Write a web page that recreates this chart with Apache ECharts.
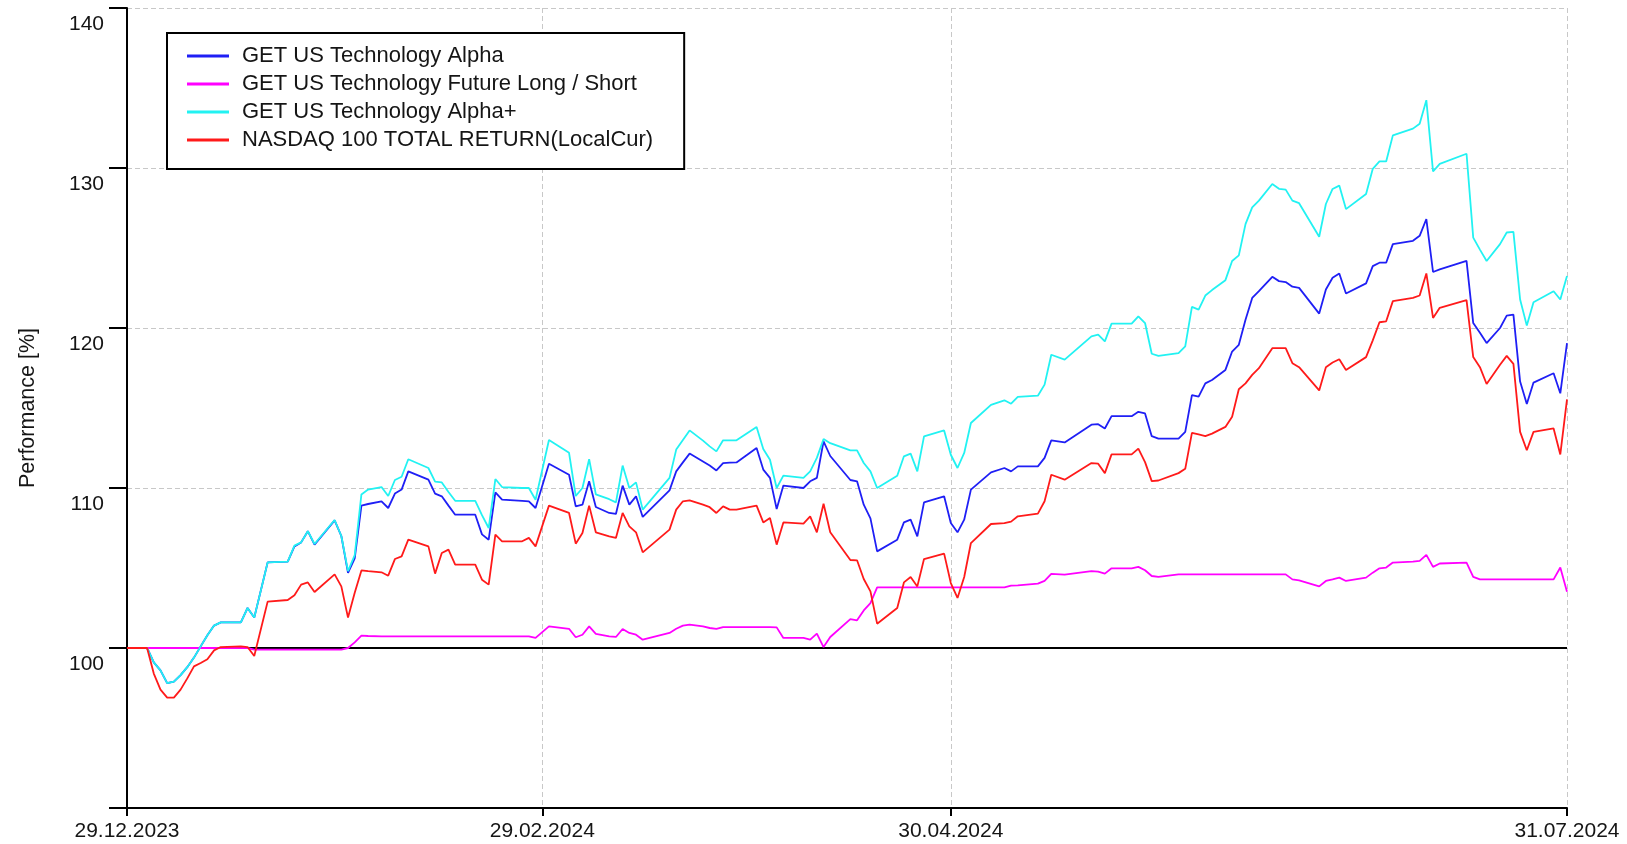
<!DOCTYPE html>
<html>
<head>
<meta charset="utf-8">
<script src="https://cdn.jsdelivr.net/npm/echarts@6.0.0/dist/echarts.min.js"></script>
<style>
html,body{margin:0;padding:0;background:#fff;}
#chart{width:1627px;height:844px;}
</style>
</head>
<body>
<div id="chart"></div>
<script>
// ---- data ----
const seriesNames = [
  'GET US Technology Alpha',
  'GET US Technology Future Long / Short',
  'GET US Technology Alpha+',
  'NASDAQ 100 TOTAL RETURN(LocalCur)'
];
const dates = [
  '2023-12-29','2024-01-01','2024-01-02','2024-01-03','2024-01-04','2024-01-05','2024-01-06','2024-01-07',
  '2024-01-08','2024-01-09','2024-01-10','2024-01-11','2024-01-12','2024-01-15','2024-01-16','2024-01-17',
  '2024-01-19','2024-01-22','2024-01-23','2024-01-24','2024-01-25','2024-01-26','2024-01-29','2024-01-30',
  '2024-01-31','2024-02-01','2024-02-02','2024-02-03','2024-02-05','2024-02-06','2024-02-07','2024-02-08',
  '2024-02-09','2024-02-12','2024-02-13','2024-02-14','2024-02-15','2024-02-16','2024-02-19','2024-02-20',
  '2024-02-21','2024-02-22','2024-02-23','2024-02-26','2024-02-27','2024-02-28','2024-03-01','2024-03-04',
  '2024-03-05','2024-03-06','2024-03-07','2024-03-08','2024-03-10','2024-03-11','2024-03-12','2024-03-13',
  '2024-03-14','2024-03-15','2024-03-19','2024-03-20','2024-03-21','2024-03-22','2024-03-24','2024-03-25',
  '2024-03-26','2024-03-27','2024-03-28','2024-03-29','2024-04-01','2024-04-02','2024-04-03','2024-04-04',
  '2024-04-05','2024-04-08','2024-04-09','2024-04-10','2024-04-11','2024-04-12','2024-04-15','2024-04-16',
  '2024-04-17','2024-04-18','2024-04-19','2024-04-22','2024-04-23','2024-04-24','2024-04-25','2024-04-26',
  '2024-04-29','2024-04-30','2024-05-01','2024-05-02','2024-05-03','2024-05-06','2024-05-08','2024-05-09',
  '2024-05-10','2024-05-13','2024-05-14','2024-05-15','2024-05-17','2024-05-21','2024-05-22','2024-05-23',
  '2024-05-24','2024-05-27','2024-05-28','2024-05-29','2024-05-30','2024-05-31','2024-06-03','2024-06-04',
  '2024-06-05','2024-06-06','2024-06-07','2024-06-08','2024-06-10','2024-06-11','2024-06-12','2024-06-13',
  '2024-06-14','2024-06-15','2024-06-17','2024-06-18','2024-06-19','2024-06-20','2024-06-21','2024-06-24',
  '2024-06-25','2024-06-26','2024-06-27','2024-06-28','2024-07-01','2024-07-02','2024-07-03','2024-07-04',
  '2024-07-05','2024-07-08','2024-07-09','2024-07-10','2024-07-11','2024-07-12','2024-07-16','2024-07-17',
  '2024-07-18','2024-07-19','2024-07-21','2024-07-22','2024-07-23','2024-07-24','2024-07-25','2024-07-26',
  '2024-07-29','2024-07-30','2024-07-31'
];
const alpha = [
  100,100,99.1,98.6,97.8,97.9,98.3,98.8,
  99.4,100.1,100.8,101.4,101.6,101.6,102.5,101.9,
  105.35,105.4,106.35,106.6,107.3,106.46,107.98,107.0,
  104.7,105.6,108.9,109.0,109.17,108.75,109.65,109.9,
  111.04,110.52,109.65,109.48,108.9,108.33,108.33,107.1,
  106.77,109.73,109.27,109.2,109.17,108.75,111.52,110.83,
  108.85,108.96,110.42,108.81,108.44,108.38,110.15,108.96,
  109.48,108.19,109.85,111.04,111.6,112.15,111.65,111.4,
  111.1,111.56,111.58,111.6,112.5,111.15,110.63,108.69,
  110.15,110.0,110.42,110.63,112.92,112.0,110.5,110.42,
  108.96,108.1,106.04,106.77,107.85,108.02,106.98,109.1,
  109.48,107.81,107.23,108.02,109.9,110.98,111.25,111.04,
  111.35,111.35,111.88,112.98,112.85,113.96,113.99,113.72,
  114.49,114.49,114.76,114.66,113.24,113.09,113.09,113.51,
  115.81,115.71,116.54,116.75,117.38,118.53,118.95,120.52,
  121.88,122.3,123.2,122.93,122.87,122.58,122.51,120.9,
  122.41,123.14,123.41,122.16,122.79,123.87,124.08,124.08,
  125.24,125.45,125.76,126.81,123.5,123.66,124.19,120.31,
  119.7,119.06,120.0,120.77,120.84,116.65,115.25,116.59,
  117.17,115.92,119.06
];
const futureLS = [
  100,100,100,100,100,100,100,100,
  100,100,100,100,100,100,100,99.9,
  99.9,99.9,99.9,99.9,99.9,99.9,99.9,99.9,
  100,100.35,100.77,100.75,100.73,100.73,100.73,100.73,
  100.73,100.73,100.73,100.73,100.73,100.73,100.73,100.73,
  100.73,100.73,100.73,100.73,100.73,100.63,101.35,101.2,
  100.67,100.83,101.35,100.88,100.73,100.69,101.19,100.94,
  100.83,100.52,100.94,101.2,101.4,101.46,101.35,101.25,
  101.19,101.31,101.3,101.3,101.3,101.3,101.3,101.29,
  100.63,100.63,100.52,100.9,100.06,100.69,101.8,101.73,
  102.35,102.8,103.79,103.79,103.79,103.79,103.79,103.79,
  103.79,103.79,103.79,103.79,103.79,103.79,103.79,103.9,
  103.92,104.02,104.2,104.63,104.58,104.8,104.77,104.65,
  104.98,104.98,105.07,104.86,104.5,104.44,104.6,104.6,
  104.6,104.6,104.6,104.6,104.6,104.6,104.6,104.6,
  104.6,104.6,104.6,104.6,104.6,104.29,104.23,103.85,
  104.19,104.29,104.4,104.19,104.4,104.71,104.98,105.03,
  105.34,105.4,105.45,105.82,105.07,105.28,105.34,104.44,
  104.29,104.29,104.29,104.29,104.29,104.29,104.29,104.29,
  104.29,105.03,103.52
];
const alphaPlus = [
  100,100,99.1,98.6,97.8,97.9,98.3,98.8,
  99.4,100.1,100.8,101.4,101.6,101.6,102.5,101.9,
  105.35,105.4,106.4,106.6,107.3,106.5,108.0,107.0,
  104.8,105.8,109.6,109.9,110.06,109.5,110.5,110.7,
  111.8,111.25,110.4,110.35,109.75,109.2,109.2,108.3,
  107.5,110.56,110.06,110.0,110.0,109.27,113.0,112.2,
  109.5,110.0,111.8,109.6,109.3,109.1,111.4,110.0,
  110.35,108.65,110.63,112.4,113.0,113.6,112.96,112.6,
  112.29,112.98,112.98,112.98,113.81,112.44,111.77,110.0,
  110.77,110.63,111.04,111.88,113.06,112.8,112.35,112.35,
  111.56,111.04,110.0,110.77,111.98,112.15,111.04,113.23,
  113.6,112.08,111.25,112.19,114.06,115.2,115.48,115.27,
  115.69,115.77,116.46,118.33,118.02,119.48,119.58,119.16,
  120.27,120.27,120.73,120.31,118.39,118.26,118.43,118.85,
  121.32,121.15,122.03,122.37,122.99,124.19,124.54,126.49,
  127.54,127.96,129.0,128.7,128.65,127.96,127.8,125.7,
  127.75,128.69,128.9,127.43,128.38,129.95,130.41,130.41,
  132.04,132.46,132.77,134.24,129.78,130.26,130.89,125.65,
  124.9,124.19,125.24,125.97,126.01,121.78,120.15,121.61,
  122.3,121.78,123.25
];
const nasdaq100 = [
  100,100,98.4,97.4,96.9,96.9,97.4,98.1,
  98.85,99.06,99.3,99.85,100.06,100.1,100.06,99.5,
  102.9,103.0,103.3,103.96,104.1,103.5,104.6,103.85,
  101.9,103.45,104.85,104.8,104.73,104.52,105.56,105.73,
  106.77,106.35,104.65,105.94,106.15,105.21,105.21,104.27,
  103.96,107.08,106.67,106.67,106.88,106.35,108.9,108.44,
  106.52,107.19,108.9,107.23,106.98,106.88,108.44,107.6,
  107.23,105.98,107.4,108.65,109.17,109.23,108.96,108.8,
  108.44,108.85,108.65,108.65,108.9,107.85,108.12,106.46,
  107.85,107.77,108.23,107.23,109.02,107.23,105.5,105.48,
  104.31,103.54,101.52,102.5,104.1,104.44,103.85,105.56,
  105.9,104.06,103.13,104.44,106.56,107.75,107.8,107.9,
  108.23,108.4,109.17,110.83,110.52,111.56,111.52,110.93,
  112.1,112.1,112.46,111.62,110.43,110.47,110.93,111.2,
  113.45,113.35,113.24,113.4,113.82,114.45,116.17,116.54,
  117.07,117.49,118.74,118.74,118.74,117.8,117.55,116.1,
  117.55,117.84,118.05,117.38,118.18,119.23,120.36,120.42,
  121.68,121.88,122.03,123.41,120.63,121.26,121.74,118.18,
  117.55,116.5,117.7,118.26,117.76,113.51,112.36,113.51,
  113.72,112.1,115.54
];
const baselineValue = 100;
const xTickDates = ['2023-12-29','2024-02-29','2024-04-30','2024-07-31'];
const yTicks = [90, 100, 110, 120, 130, 140];
const colors = ['#1f1ff5', '#ff00ff', '#22f2f2', '#ff1a1a'];

// ---- helpers ----
function ts(s){ const p = s.split('-'); return new Date(+p[0], +p[1]-1, +p[2]).getTime(); }
function pad(n){ return (n < 10 ? '0' : '') + n; }
function fmtDate(v){ const d = new Date(v); return pad(d.getDate()) + '.' + pad(d.getMonth()+1) + '.' + d.getFullYear(); }
function pairs(vals){ return dates.map((d, i) => [ts(d), vals[i]]); }

const FONT = 'Liberation Sans, Arial, sans-serif';
const TXT = '#151515';
const valuesList = [alpha, futureLS, alphaPlus, nasdaq100];
const xTickValues = xTickDates.map(ts);

const series = [{
  name: 'baseline',
  type: 'line',
  data: [[ts(dates[0]), baselineValue], [ts(dates[dates.length-1]), baselineValue]],
  showSymbol: false,
  symbol: 'none',
  silent: true,
  z: 1,
  lineStyle: { color: '#000', width: 2 },
  emphasis: { disabled: true }
}];
seriesNames.forEach((n, i) => {
  series.push({
    name: n,
    type: 'line',
    data: pairs(valuesList[i]),
    showSymbol: false,
    symbol: 'none',
    z: 2 + i,
    lineStyle: { color: colors[i], width: 1.8 },
    itemStyle: { color: colors[i] },
    emphasis: { disabled: true }
  });
});

const chart = echarts.init(document.getElementById('chart'), null, { renderer: 'canvas' });
chart.setOption({
  animation: false,
  backgroundColor: '#ffffff',
  grid: { left: 127, right: 60, top: 8, bottom: 36, containLabel: false },
  legend: {
    data: seriesNames,
    orient: 'vertical',
    left: 167,
    top: 33,
    icon: 'rect',
    itemWidth: 42,
    itemHeight: 3,
    itemGap: 0,
    padding: [9, 31, 15, 20],
    borderColor: '#000',
    borderWidth: 2,
    backgroundColor: '#fff',
    selectedMode: false,
    textStyle: { fontFamily: FONT, fontSize: 22, color: TXT, lineHeight: 28, padding: [0, 0, 0, 8] }
  },
  xAxis: {
    type: 'value',
    min: xTickValues[0],
    max: xTickValues[xTickValues.length-1],
    axisLine: { show: true, onZero: false, lineStyle: { color: '#000', width: 2 } },
    axisTick: { show: true, length: 8, customValues: xTickValues, lineStyle: { color: '#000', width: 2 } },
    axisLabel: {
      customValues: xTickValues,
      formatter: fmtDate,
      margin: 13,
      fontFamily: FONT, fontSize: 21, color: TXT,
      hideOverlap: false
    },
    splitLine: { show: true, lineStyle: { color: '#c8c8c8', width: 1, type: [5, 3] } }
  },
  yAxis: {
    type: 'value',
    min: yTicks[0],
    max: yTicks[yTicks.length-1],
    interval: 10,
    name: 'Performance [%]',
    nameLocation: 'middle',
    nameGap: 88,
    nameTextStyle: { fontFamily: FONT, fontSize: 21.5, color: TXT },
    axisLine: { show: true, onZero: false, lineStyle: { color: '#000', width: 2 } },
    axisTick: { show: true, length: 18, lineStyle: { color: '#000', width: 2 } },
    axisLabel: {
      formatter: v => (v === yTicks[0] ? '' : String(v)),
      margin: 23,
      verticalAlign: 'top',
      padding: [6, 0, 0, 0],
      fontFamily: FONT, fontSize: 21, color: TXT
    },
    splitLine: { show: true, lineStyle: { color: '#c8c8c8', width: 1, type: [5, 3] } }
  },
  series: series
});
</script>
</body>
</html>
